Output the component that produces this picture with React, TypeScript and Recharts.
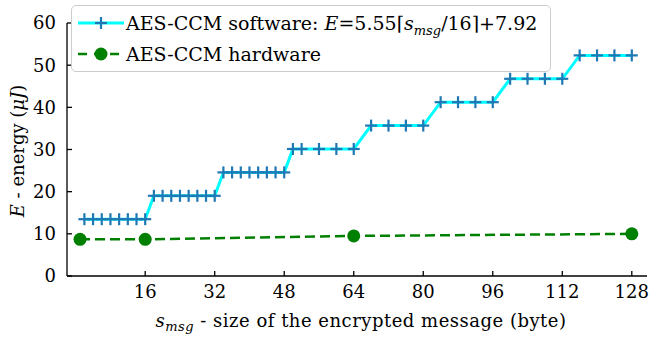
import { LineChart, Line, XAxis, YAxis, Legend, Label } from "recharts"

// message sizes (bytes) sampled for the software implementation
const softwareSizes = [
  2, 4, 6, 8, 10, 12, 14, 16,
  18, 20, 22, 24, 26, 28, 30, 32,
  34, 36, 38, 40, 42, 44, 46, 48,
  50, 52, 56, 60, 64,
  68, 72, 76, 80,
  84, 88, 92, 96,
  100, 104, 108, 112,
  116, 120, 124, 128,
]
// energy per message (uJ), one step per 16-byte block
const softwareEnergy = [
  13.47, 13.47, 13.47, 13.47, 13.47, 13.47, 13.47, 13.47,
  19.02, 19.02, 19.02, 19.02, 19.02, 19.02, 19.02, 19.02,
  24.57, 24.57, 24.57, 24.57, 24.57, 24.57, 24.57, 24.57,
  30.12, 30.12, 30.12, 30.12, 30.12,
  35.67, 35.67, 35.67, 35.67,
  41.22, 41.22, 41.22, 41.22,
  46.77, 46.77, 46.77, 46.77,
  52.32, 52.32, 52.32, 52.32,
]

const hardwareSizes = [1, 16, 64, 128]
const hardwareEnergy = [8.7, 8.7, 9.5, 10.0]

const xTicks = [16, 32, 48, 64, 80, 96, 112, 128]
const yTicks = [0, 10, 20, 30, 40, 50, 60]

const softwareData = softwareSizes.map((s, i) => ({ size: s, energy: softwareEnergy[i] }))
const hardwareData = hardwareSizes.map((s, i) => ({ size: s, energy: hardwareEnergy[i] }))

const FONT = "DejaVu Serif, serif"
const CYAN = "#00ffff"
const BLUE = "#1f77b4"
const GREEN = "#008000"

const tickStyle = { fontSize: 18, fill: "#000", fontFamily: FONT }
const axisLine = { stroke: "#000", strokeWidth: 1.3 }
const tickLine = { stroke: "#000", strokeWidth: 1.3 }

function PlusMarker(props: any) {
  const { cx, cy } = props
  if (cx == null || cy == null) return null
  return (
    <g>
      <line x1={cx - 6} x2={cx + 6} y1={cy} y2={cy} stroke={BLUE} strokeWidth={2.2} />
      <line x1={cx} x2={cx} y1={cy - 6} y2={cy + 6} stroke={BLUE} strokeWidth={2.2} />
    </g>
  )
}

function LegendBox() {
  const row = (top: number): React.CSSProperties => ({
    position: "absolute",
    left: 6,
    top,
    height: 24,
    display: "flex",
    alignItems: "center",
    whiteSpace: "nowrap",
  })
  const text: React.CSSProperties = {
    fontFamily: FONT,
    fontSize: 19,
    color: "#000",
    marginLeft: 2,
  }
  return (
    <div
      style={{
        position: "relative",
        width: 480,
        height: 67,
        boxSizing: "border-box",
        border: "1.5px solid #cccccc",
        borderRadius: 5,
        background: "rgba(255,255,255,0.92)",
      }}
    >
      <div style={row(5)}>
        <svg width={46} height={24}>
          <line x1={0} x2={46} y1={12} y2={12} stroke={CYAN} strokeWidth={3} />
          <line x1={17} x2={29} y1={12} y2={12} stroke={BLUE} strokeWidth={2.2} />
          <line x1={23} x2={23} y1={6} y2={18} stroke={BLUE} strokeWidth={2.2} />
        </svg>
        <span style={text}>
          AES-CCM software: <i>E</i>=5.55⌈<i>s</i>
          <sub style={{ fontSize: 13, fontStyle: "italic", lineHeight: 0 }}>msg</sub>/16⌉+7.92
        </span>
      </div>
      <div style={row(36)}>
        <svg width={46} height={24}>
          <line x1={0} x2={46} y1={12} y2={12} stroke={GREEN} strokeWidth={2.5} strokeDasharray="9 7" />
          <circle cx={23} cy={12} r={6.5} fill={GREEN} />
        </svg>
        <span style={text}>AES-CCM hardware</span>
      </div>
    </div>
  )
}

export default function App() {
  return (
    <div style={{ position: "absolute", left: 0, top: 0, width: 650, height: 338, background: "#fff" }}>
      <LineChart width={650} height={338} margin={{ top: 23, right: 3, bottom: 0, left: 0 }}>
        <XAxis
          xAxisId="bottom"
          dataKey="size"
          type="number"
          domain={[-2, 131.5]}
          ticks={xTicks}
          orientation="bottom"
          height={62}
          tick={tickStyle}
          tickSize={-5}
          tickMargin={14}
          axisLine={axisLine}
          tickLine={tickLine}
          allowDataOverflow
        >
          <Label
            content={() => (
              <text x={361} y={327} textAnchor="middle" fontFamily={FONT} fontSize={18} letterSpacing={0.5} fill="#000">
                <tspan fontStyle="italic">s</tspan>
                <tspan fontStyle="italic" fontSize={13} dy={4}>msg</tspan>
                <tspan dy={-4}> - size of the encrypted message (byte)</tspan>
              </text>
            )}
          />
        </XAxis>
        <XAxis
          xAxisId="top"
          dataKey="size"
          type="number"
          domain={[-2, 131.5]}
          ticks={xTicks}
          orientation="top"
          height={0}
          tick={false}
          tickSize={-5}
          axisLine={axisLine}
          tickLine={tickLine}
          allowDataOverflow
        />
        <YAxis
          yAxisId="left"
          type="number"
          domain={[0, 60]}
          ticks={yTicks}
          orientation="left"
          width={67}
          tick={tickStyle}
          tickSize={-5}
          tickMargin={16}
          axisLine={axisLine}
          tickLine={tickLine}
        >
          <Label
            content={() => (
              <text
                transform="translate(24,151) rotate(-90)"
                textAnchor="middle"
                fontFamily={FONT}
                fontSize={18}
                fill="#000"
              >
                <tspan fontStyle="italic">E</tspan>
                <tspan> - energy (</tspan>
                <tspan fontStyle="italic">μJ</tspan>
                <tspan>)</tspan>
              </text>
            )}
          />
        </YAxis>
        <YAxis
          yAxisId="right"
          type="number"
          domain={[0, 60]}
          ticks={yTicks}
          orientation="right"
          width={0}
          tick={false}
          tickSize={-5}
          axisLine={axisLine}
          tickLine={tickLine}
        />
        <Legend
          layout="horizontal"
          verticalAlign="middle"
          align="center"
          wrapperStyle={{ left: 71, top: 5, width: 480, height: 67 }}
          content={() => <LegendBox />}
        />
        <Line
          data={hardwareData}
          xAxisId="bottom"
          yAxisId="left"
          dataKey="energy"
          type="linear"
          stroke={GREEN}
          strokeWidth={2.5}
          strokeDasharray="10 5"
          dot={{ r: 6.5, fill: GREEN, stroke: GREEN, strokeWidth: 0 }}
          isAnimationActive={false}
        />
        <Line
          data={softwareData}
          xAxisId="bottom"
          yAxisId="left"
          dataKey="energy"
          type="linear"
          stroke={CYAN}
          strokeWidth={3}
          dot={<PlusMarker />}
          isAnimationActive={false}
        />
      </LineChart>
    </div>
  )
}
